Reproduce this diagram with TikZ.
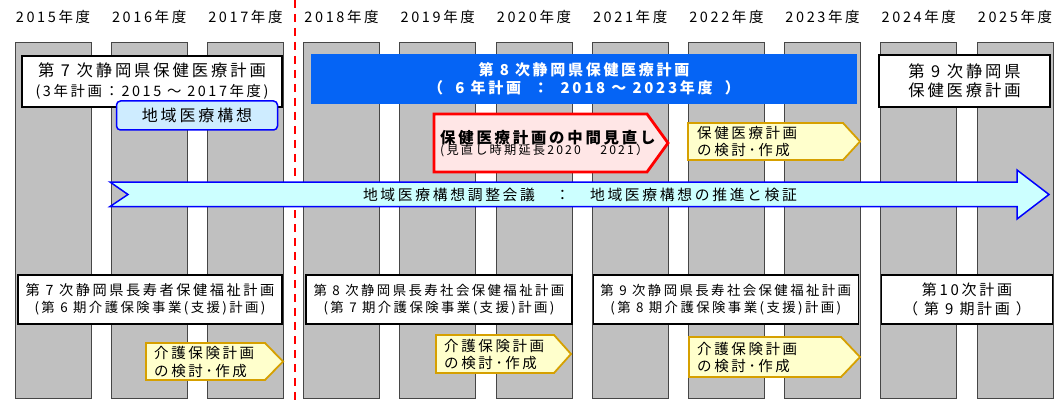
\documentclass[tikz,border=0pt]{standalone}
\usepackage{fontspec}
\newfontfamily\jp[LetterSpace=18]{Noto Sans CJK JP}
\definecolor{colgray}{RGB}{192,192,192}
\definecolor{coledge}{RGB}{70,70,70}
\definecolor{bannerblue}{RGB}{5,100,245}
\definecolor{arrowfill}{RGB}{204,255,255}
\definecolor{arrowedge}{RGB}{0,0,255}
\definecolor{visionfill}{RGB}{206,236,255}
\definecolor{yelfill}{RGB}{255,255,204}
\definecolor{yeledge}{RGB}{214,160,0}
\definecolor{pinkfill}{RGB}{255,230,230}
\definecolor{redline}{RGB}{255,0,0}
\tikzset{
  col/.style={fill=colgray, draw=coledge, line width=0.8pt},
  year/.style={font=\jp\fontsize{14.5}{17}\selectfont, inner sep=0pt},
  wbox/.style={draw=black, line width=1.6pt, fill=white, align=center, inner sep=0pt},
  banner/.style={fill=bannerblue, draw=none, text=white, align=center, inner sep=0pt,
     font=\jp\bfseries\fontsize{15}{18.5}\selectfont},
  vision/.style={fill=visionfill, draw=arrowedge, line width=1.5pt, rounded corners=4pt,
     inner sep=0pt, font=\jp\fontsize{16}{19}\selectfont},
  bigarrow/.style={fill=arrowfill, draw=arrowedge, line width=1.5pt},
  yelshape/.style={fill=yelfill, draw=yeledge, line width=1.8pt, line join=miter},
  redshape/.style={fill=pinkfill, draw=redline, line width=2.8pt, line join=miter},
  ytext/.style={anchor=west, align=left, inner sep=0pt, font=\jp\fontsize{14.5}{17.5}\selectfont},
  reddash/.style={draw=redline, line width=2.4pt, dash pattern=on 8pt off 6pt},
}
\begin{document}
\begin{tikzpicture}[x=1pt,y=-1pt]
\useasboundingbox (0,0) rectangle (1055,401);
\fill[white] (0,0) rectangle (1055,401);

% columns
\foreach \i in {0,...,10}{
  \draw[col] ({15+96.2*\i},42) rectangle ({91+96.2*\i},398);
}
% year labels
\foreach \i/\y in {0/2015,1/2016,2/2017,3/2018,4/2019,5/2020,6/2021,7/2022,8/2023,9/2024,10/2025}{
  \node[year] (y\y) at ({53+96.2*\i},17) {\y 年度};
}

% red dashed divider
\coordinate (dtop) at (295,0);
\coordinate (dbot) at (295,401);
\draw[reddash] (dtop) -- (dbot);

% big arrow
\draw[bigarrow] (110,182) -- (1017,182) -- (1017,170) -- (1049,194.5) -- (1017,219)
  -- (1017,206.5) -- (110,206.5) -- (128,194.5) -- cycle;
\node[inner sep=0pt, font=\jp\fontsize{14.8}{17}\selectfont] (conf) at (580,195)
  {地域医療構想調整会議　：　地域医療構想の推進と検証};

% top plans
\node[wbox, minimum width=260, minimum height=51, font=\jp\fontsize{16.3}{20}\selectfont]
  (plan7) at (152,81.5) {第 7 次静岡県保健医療計画\\{\fontsize{14.4}{17}\selectfont (3年計画：2015 ～ 2017年度)}};
\node[vision, minimum width=161, minimum height=29] (vision) at (197,115.5) {地域医療構想};
\node[banner, minimum width=546, minimum height=50] (plan8) at (584,79)
  {第 8 次静岡県保健医療計画\\（\ \ 6 年計画\ \ ：\ \ 2018 ～ 2023年度\ \ ）};
\node[wbox, minimum width=171, minimum height=52, font=\jp\fontsize{16.3}{19.5}\selectfont]
  (plan9) at (964.5,81) {第 9 次静岡県\\保健医療計画};

% mid-term review (red pentagon)
\draw[redshape] (434,114) -- (647,114) -- (668,143) -- (647,172) -- (434,172) -- cycle;
\node[anchor=west, align=left, inner sep=0pt] (review) at (440,144)
  {{\jp\bfseries\fontsize{15.4}{18}\selectfont 保健医療計画の中間見直し}\\[-1pt]
   {\jp\fontsize{12.2}{14}\selectfont (見直し時期延長2020　 2021）}};

% yellow top
\draw[yelshape] (688,123) -- (843,123) -- (860,141.5) -- (843,160) -- (688,160) -- cycle;
\node[ytext] (hp) at (697,141.5) {保健医療計画\\の検討･作成};

% bottom plans
\node[wbox, minimum width=264, minimum height=49, font=\jp\fontsize{13.4}{16.5}\selectfont]
  (lt7) at (150,299.5) {{\fontsize{14.2}{16.5}\selectfont 第 7 次静岡県長寿者保健福祉計画}\\(第 6 期介護保険事業(支援)計画)};
\node[wbox, minimum width=266, minimum height=49, font=\jp\fontsize{13.4}{16.5}\selectfont]
  (lt8) at (439,299.5) {第 8 次静岡県長寿社会保健福祉計画\\(第 7 期介護保険事業(支援)計画)};
\node[wbox, minimum width=265, minimum height=49, font=\jp\fontsize{13.4}{16.5}\selectfont]
  (lt9) at (725.8,299.5) {第 9 次静岡県長寿社会保健福祉計画\\(第 8 期介護保険事業(支援)計画)};
\node[wbox, minimum width=171, minimum height=49, font=\jp\fontsize{15}{18.5}\selectfont]
  (lt10) at (967,299.5) {第10次計画\\（ 第 9 期計画 ）};

% yellow bottom
\draw[yelshape] (146,343) -- (265,343) -- (283,361.5) -- (265,380) -- (146,380) -- cycle;
\node[ytext] (kc1) at (154,362) {介護保険計画\\の検討･作成};
\draw[yelshape] (436,335) -- (554,335) -- (571,354) -- (554,373) -- (436,373) -- cycle;
\node[ytext] (kc2) at (444,354.5) {介護保険計画\\の検討･作成};
\draw[yelshape] (689,337) -- (841,337) -- (860,357) -- (841,377) -- (689,377) -- cycle;
\node[ytext] (kc3) at (697,357.5) {介護保険計画\\の検討･作成};
\end{tikzpicture}
\end{document}
